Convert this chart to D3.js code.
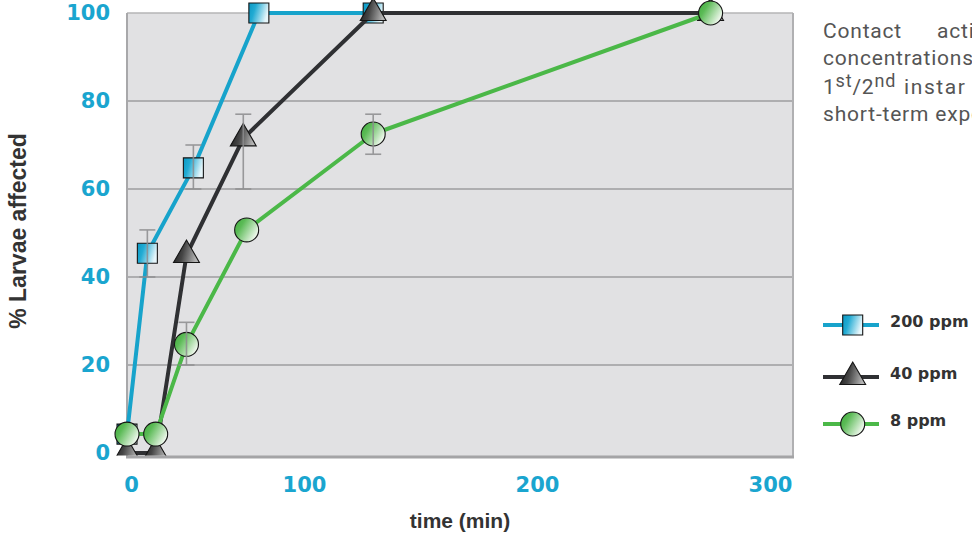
<!DOCTYPE html>
<html>
<head>
<meta charset="utf-8">
<script src="https://cdn.jsdelivr.net/npm/d3@7"></script>
<style>
  html, body { margin: 0; padding: 0; background: #fff; }
  svg { display: block; }
</style>
</head>
<body>
<svg id="chart" width="972" height="535"></svg>
<script>
// ---------- data ----------
const xTicks = [0, 100, 200, 300];
const yTicks = [0, 20, 40, 60, 80, 100];
const seriesNames = ["200 ppm", "40 ppm", "8 ppm"];

// 200 ppm
const time200 = [0, 11.5, 37.5, 74.5, 129.7];
const pct200 = [4.3, 45.4, 64.8, 100, 100];
const errLow200 = [null, 40, 60, null, null];
const errHigh200 = [null, 50.7, 70, null, null];

// 40 ppm
const time40 = [0, 16.2, 33.6, 65.7, 129.7, 274.5];
const pct40 = [0, 0, 45, 71.5, 100, 100];
const errLow40 = [null, null, null, 60, null, null];
const errHigh40 = [null, null, null, 77, null, null];

// 8 ppm
const time8 = [0, 16.2, 33.6, 67.6, 129.7, 274.5];
const pct8 = [4.3, 4.3, 24.7, 50.7, 72.5, 100];
const errLow8 = [null, null, 20, null, 67.9, null];
const errHigh8 = [null, null, 29.7, null, 77, null];

const descLines = ["Contact activity at different", "concentrations against", "1st/2nd instar larvae after", "short-term exposure"];

// ---------- layout ----------
const W = 972, H = 535;
const plot = { left: 127, right: 793, top: 13, bottom: 457 };
const tickColor = "#1aa5cf";
const titleColor = "#333333";
const styles = [
  { color: "#17a3cb", shape: d3.symbolSquare, size: 400, grad: "gSquare" },
  { color: "#2f3033", shape: d3.symbolTriangle, size: 290, grad: "gTri" },
  { color: "#4bb848", shape: d3.symbolCircle, size: 452, grad: "gCirc" }
];

function zipSeries(t, v, lo, hi) {
  return t.map((d, i) => ({ t: d, v: v[i], lo: lo[i], hi: hi[i] }));
}
const series = [
  zipSeries(time200, pct200, errLow200, errHigh200),
  zipSeries(time40, pct40, errLow40, errHigh40),
  zipSeries(time8, pct8, errLow8, errHigh8)
];

// time axis is piecewise: the first hundred minutes are drawn narrower
const x = d3.scaleLinear().domain(xTicks).range([127, 304, 537, 770]);
const y = d3.scaleLinear().domain([0, 100]).range([453, 13]);

const svg = d3.select("#chart");
const defs = svg.append("defs");

function linGrad(id, x2, y2, stops) {
  const g = defs.append("linearGradient").attr("id", id)
    .attr("x1", 0).attr("y1", 0).attr("x2", x2).attr("y2", y2);
  stops.forEach(s => g.append("stop").attr("offset", s[0]).attr("stop-color", s[1]));
}
linGrad("gSquare", 1, 0.3, [[0, "#0b98c3"], [0.35, "#22abd3"], [1, "#e6f6fb"]]);
linGrad("gTri", 1, 0.2, [[0, "#161616"], [0.45, "#454545"], [1, "#b4b4b4"]]);
linGrad("gCirc", 1, 0.6, [[0, "#3cab3a"], [0.35, "#5cbb57"], [1, "#f2f9f0"]]);

defs.append("clipPath").attr("id", "markClip")
  .append("rect").attr("x", 0).attr("y", -40).attr("width", W).attr("height", 455.5 + 40);

// plot background
svg.append("rect")
  .attr("x", plot.left).attr("y", plot.top)
  .attr("width", plot.right - plot.left).attr("height", plot.bottom - plot.top)
  .attr("fill", "#e1e1e3");

// horizontal grid
svg.append("g").selectAll("line").data(yTicks.filter(d => d > 0 && d < 100)).join("line")
  .attr("x1", plot.left).attr("x2", plot.right)
  .attr("y1", d => y(d)).attr("y2", d => y(d))
  .attr("stroke", "#9d9d9f").attr("stroke-width", 1.6);

// frame
svg.append("line").attr("x1", plot.left).attr("x2", plot.right).attr("y1", y(100)).attr("y2", y(100))
  .attr("stroke", "#b4b4b6").attr("stroke-width", 1.6);
svg.append("line").attr("x1", plot.left).attr("x2", plot.left).attr("y1", plot.top).attr("y2", plot.bottom)
  .attr("stroke", "#a8a8aa").attr("stroke-width", 2);
svg.append("line").attr("x1", plot.right).attr("x2", plot.right).attr("y1", plot.top).attr("y2", plot.bottom)
  .attr("stroke", "#b0b0b2").attr("stroke-width", 2);
svg.append("line").attr("x1", plot.left - 1).attr("x2", plot.right + 1).attr("y1", plot.bottom).attr("y2", plot.bottom)
  .attr("stroke", "#a4a4a6").attr("stroke-width", 3);

// axes
const yAxis = svg.append("g").attr("transform", "translate(110,0)")
  .call(d3.axisLeft(y).tickValues(yTicks).tickSize(0).tickPadding(0));
const xAxis = svg.append("g").attr("transform", `translate(0,${plot.bottom})`)
  .call(d3.axisBottom(x).tickValues(xTicks).tickSize(0).tickPadding(20));
[yAxis, xAxis].forEach(a => {
  a.select(".domain").remove();
  a.selectAll("text")
    .attr("fill", tickColor)
    .style("font-family", "'DejaVu Sans', sans-serif")
    .style("font-weight", "bold")
    .style("font-size", "21px");
});
// the zero label sits a little right of the axis origin
xAxis.selectAll(".tick text").filter(d => d === 0).attr("dx", 4);

// axis titles
svg.append("text")
  .attr("x", (plot.left + plot.right) / 2).attr("y", 528)
  .attr("text-anchor", "middle")
  .attr("fill", titleColor)
  .style("font-family", "'Liberation Sans', Arial, sans-serif")
  .style("font-weight", "bold").style("font-size", "21px")
  .text("time (min)");
svg.append("text")
  .attr("transform", "translate(26,231) rotate(-90)")
  .attr("text-anchor", "middle")
  .attr("fill", titleColor)
  .style("font-family", "'Liberation Sans', Arial, sans-serif")
  .style("font-weight", "bold").style("font-size", "23px")
  .text("% Larvae affected");

// series lines and markers
const marks = svg.append("g").attr("clip-path", "url(#markClip)");
const line = d3.line().x(d => x(d.t)).y(d => y(d.v));
series.forEach((s, i) => {
  const st = styles[i];
  marks.append("path").datum(s)
    .attr("d", line).attr("fill", "none")
    .attr("stroke", st.color).attr("stroke-width", 4)
    .attr("stroke-linejoin", "round");
  marks.append("g").selectAll("path").data(s).join("path")
    .attr("transform", d => `translate(${x(d.t)},${y(d.v)})`)
    .attr("d", d3.symbol().type(st.shape).size(st.size)())
    .attr("fill", `url(#${st.grad})`)
    .attr("stroke", "#151515").attr("stroke-width", 1.1);
});

// error bars
const errG = svg.append("g").attr("stroke", "#8c8c8e").attr("stroke-width", 1.6).attr("opacity", 0.85);
series.forEach(s => {
  s.filter(d => d.lo != null).forEach(d => {
    const cx = x(d.t);
    errG.append("line").attr("x1", cx).attr("x2", cx).attr("y1", y(d.lo)).attr("y2", y(d.hi));
    errG.append("line").attr("x1", cx - 8).attr("x2", cx + 8).attr("y1", y(d.lo)).attr("y2", y(d.lo));
    errG.append("line").attr("x1", cx - 8).attr("x2", cx + 8).attr("y1", y(d.hi)).attr("y2", y(d.hi));
  });
});

// legend
const legendRows = [325, 377, 424];
const legend = svg.append("g");
seriesNames.forEach((name, i) => {
  const st = styles[i];
  const ry = legendRows[i];
  legend.append("line").attr("x1", 823).attr("x2", 879).attr("y1", ry).attr("y2", ry)
    .attr("stroke", st.color).attr("stroke-width", 4);
  legend.append("path")
    .attr("transform", `translate(852.7,${ry})`)
    .attr("d", d3.symbol().type(st.shape).size(st.size)())
    .attr("fill", `url(#${st.grad})`)
    .attr("stroke", "#151515").attr("stroke-width", 1.1);
  legend.append("text").attr("x", 890).attr("y", ry + 2)
    .attr("fill", titleColor)
    .style("font-family", "'DejaVu Sans', sans-serif")
    .style("font-weight", "bold").style("font-size", "16px")
    .text(name);
});

// description text (justified block running past the right edge)
function descText() {
  return svg.append("text")
    .attr("fill", "#555555")
    .style("font-family", "Roboto, sans-serif")
    .style("font-size", "21px")
    .style("letter-spacing", "0.8px");
}
const baselines = [38, 65, 94, 121];
const l1 = descText();
l1.append("tspan").attr("x", 823).attr("y", baselines[0]).text("Contact");
l1.append("tspan").attr("x", 937).attr("y", baselines[0]).text(descLines[0].replace("Contact ", ""));
descText().attr("x", 823).attr("y", baselines[1]).text(descLines[1]);
// line 3 with ordinal superscripts
const l3 = descText().attr("x", 823).attr("y", baselines[2]);
l3.append("tspan").text("1");
l3.append("tspan").attr("dy", -7).style("font-size", "18px").text("st");
l3.append("tspan").attr("dy", 7).text("/2");
l3.append("tspan").attr("dy", -7).style("font-size", "18px").text("nd");
l3.append("tspan").attr("x", 904).attr("dy", 7).style("letter-spacing", "1.6px")
  .text(descLines[2].replace("1st/2nd ", ""));
descText().attr("x", 823).attr("y", baselines[3]).text(descLines[3]);
</script>
</body>
</html>
